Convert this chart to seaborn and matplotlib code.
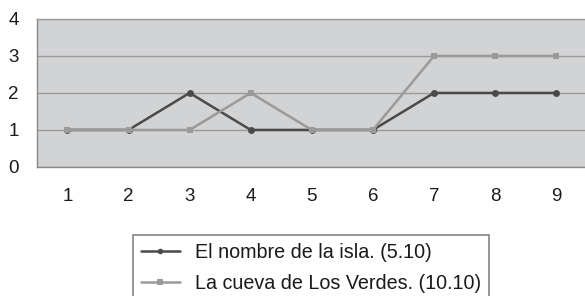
import pandas as pd
import numpy as np
import matplotlib.pyplot as plt
import seaborn as sns

# data
steps = [1, 2, 3, 4, 5, 6, 7, 8, 9]
isla = [1, 1, 2, 1, 1, 1, 2, 2, 2]
cueva = [1, 1, 1, 2, 1, 1, 3, 3, 3]
labels = ['El nombre de la isla. (5.10)', 'La cueva de Los Verdes. (10.10)']

df = pd.DataFrame({'step': steps * 2,
                   'value': isla + cueva,
                   'serie': [labels[0]] * len(steps) + [labels[1]] * len(steps)})

sns.set_style('white')
plt.rcParams['font.family'] = ['Liberation Sans', 'DejaVu Sans']

fig = plt.figure(figsize=(5.85, 2.96), dpi=100)
ax = fig.add_axes([0.063, 0.436, 0.94, 0.50])
ax.set_facecolor('#d2d3d5')

sns.lineplot(data=df, x='step', y='value', hue='serie', style='serie',
             palette=['#4a4a4a', '#9a9a9a'], markers=['o', 's'], dashes=False,
             markersize=5, markeredgewidth=0, linewidth=1.8, ax=ax, legend=True)

ax.set_xlim(0.5, 9.5)
ax.set_ylim(0, 4)
ax.set_yticks([0, 1, 2, 3, 4])
ax.yaxis.grid(True, color='#9a9a9a', linewidth=1)
ax.set_axisbelow(True)
ax.set_xticks(steps)
ax.set_xticks(np.arange(0.5, 10, 1), minor=True)
ax.tick_params(axis='x', which='major', length=0, pad=15, labelsize=13.5, colors='#1a1a1a')
ax.tick_params(axis='x', which='minor', length=5, width=1, color='#888888', direction='out')
ax.tick_params(axis='y', length=5, width=1, color='#888888', direction='out', pad=8,
               labelsize=13.5, colors='#1a1a1a')
ax.set_xlabel('')
ax.set_ylabel('')
for s in ['top', 'right']:
    ax.spines[s].set_color('#9a9a9a')
for s in ['left', 'bottom']:
    ax.spines[s].set_color('#888888')
for s in ax.spines.values():
    s.set_linewidth(1)

handles, lbls = ax.get_legend_handles_labels()
ax.get_legend().remove()
leg = fig.legend(handles, lbls, loc='upper left', bbox_to_anchor=(0.227, 0.206),
                 borderaxespad=0, fontsize=14.2, frameon=True, fancybox=False,
                 edgecolor='#666666', handlelength=2.0, handletextpad=0.75,
                 labelspacing=0.62, borderpad=0.4, markerscale=0.8)
leg.get_frame().set_linewidth(1.2)
for t in leg.get_texts():
    t.set_color('#1a1a1a')

fig.savefig('out.png', dpi=100)
